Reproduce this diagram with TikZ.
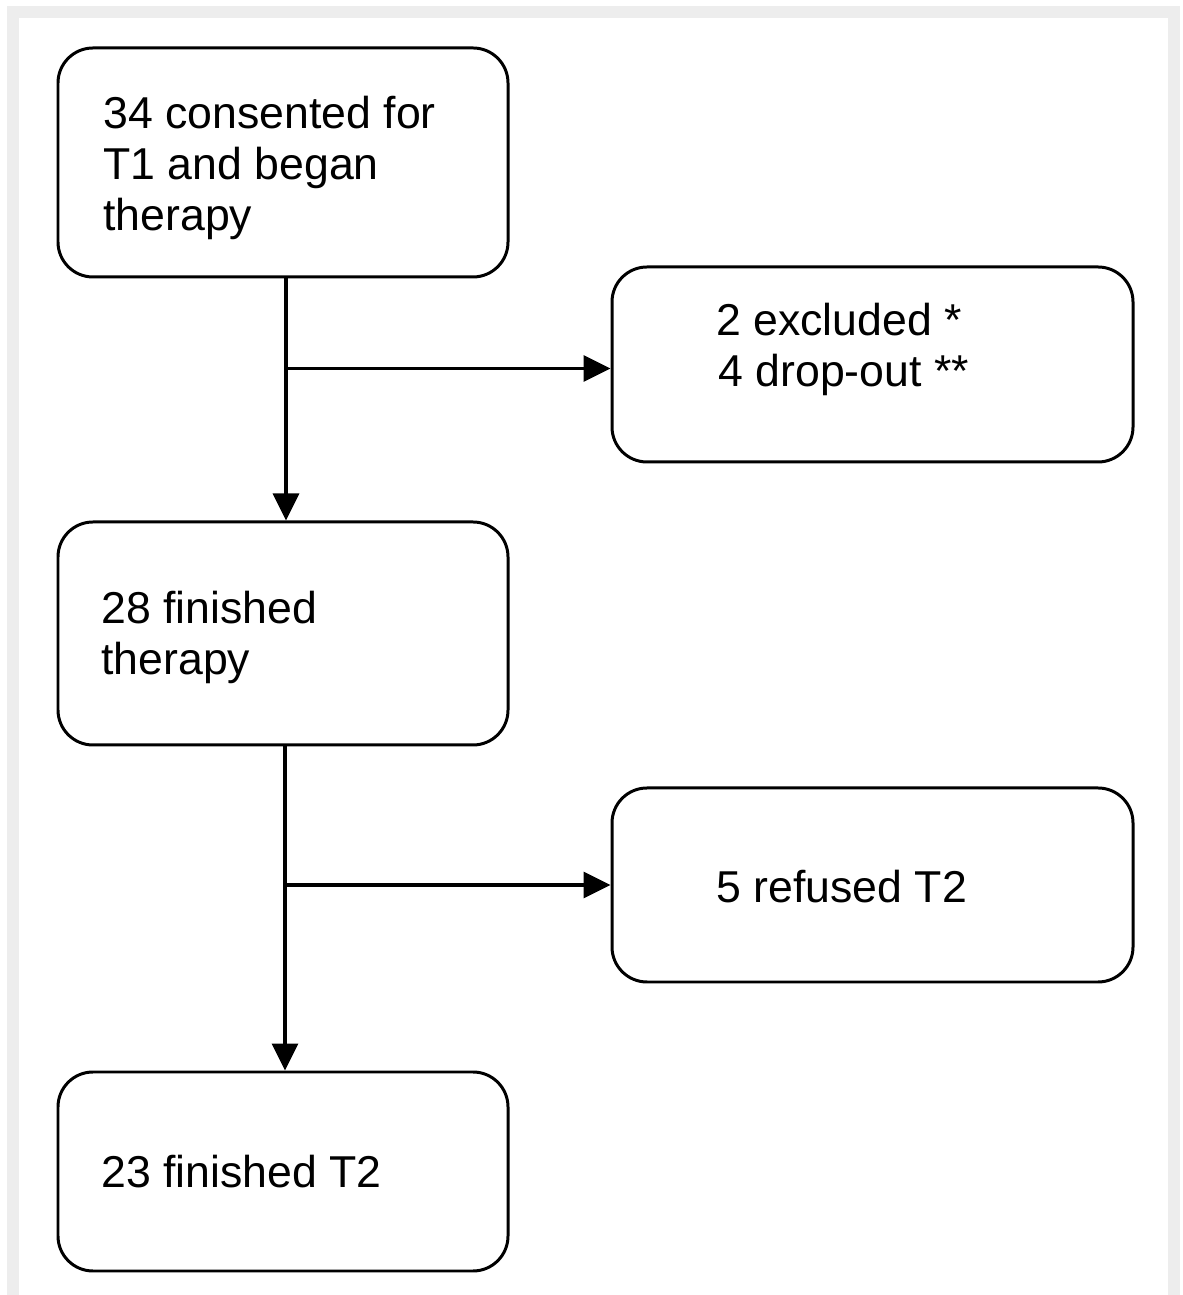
\documentclass[tikz,border=0pt]{standalone}
\usepackage{fontspec}
\setmainfont{Liberation Sans}
\usetikzlibrary{arrows.meta}
\tikzset{
  stagebox/.style={draw=black, line width=1.7pt, rounded corners=0.7cm, inner sep=0pt},
  stagelabel/.style={font=\fontsize{25.4pt}{29pt}\selectfont, align=left, inner sep=0pt, anchor=west},
  flow/.style={line width=1.9pt, draw=black, -{Triangle[length=0.54cm,width=0.52cm]}},
}
\begin{document}
\begin{tikzpicture}
\useasboundingbox (0,0) rectangle (23.64,25.9);
\fill[black!7] (0.14,0) rectangle (23.6,25.78);
\fill[white] (0.38,0) rectangle (23.36,25.54);
\node[stagebox, minimum width=9.0cm, minimum height=4.58cm] (consent) at (5.66,22.65) {};
\node[stagebox, minimum width=10.42cm, minimum height=3.9cm] (excluded) at (17.45,18.61) {};
\node[stagebox, minimum width=9.0cm, minimum height=4.46cm] (therapy) at (5.66,13.23) {};
\node[stagebox, minimum width=10.42cm, minimum height=3.88cm] (refused) at (17.45,8.2) {};
\node[stagebox, minimum width=9.0cm, minimum height=3.98cm] (finished) at (5.66,2.47) {};
\node[stagelabel] (consenttext) at (2.06,22.54) {34 consented for\\T1 and began\\therapy};
\node[stagelabel] (excludedtext) at (14.32,18.92) {2 excluded *\\\hspace{0.04cm}4 drop-out **};
\node[stagelabel] (therapytext) at (2.02,13.16) {28 finished\\therapy};
\node[stagelabel] (refusedtext) at (14.32,8.16) {5 refused T2};
\node[stagelabel] (finishedtext) at (2.02,2.46) {23 finished T2};
\coordinate (split1) at ([xshift=0.06cm]consent.south |- excluded.west);
\coordinate (split2) at ([xshift=0.04cm]therapy.south |- refused.west);
\draw[flow] ([xshift=0.06cm]consent.south) -- ([xshift=0.06cm]therapy.north);
\draw[flow] ([yshift=-0.08cm]split1) -- ([yshift=-0.08cm]excluded.west);
\draw[flow] ([xshift=0.04cm]therapy.south) -- ([xshift=0.04cm]finished.north);
\draw[flow] (split2) -- (refused.west);
\end{tikzpicture}
\end{document}
